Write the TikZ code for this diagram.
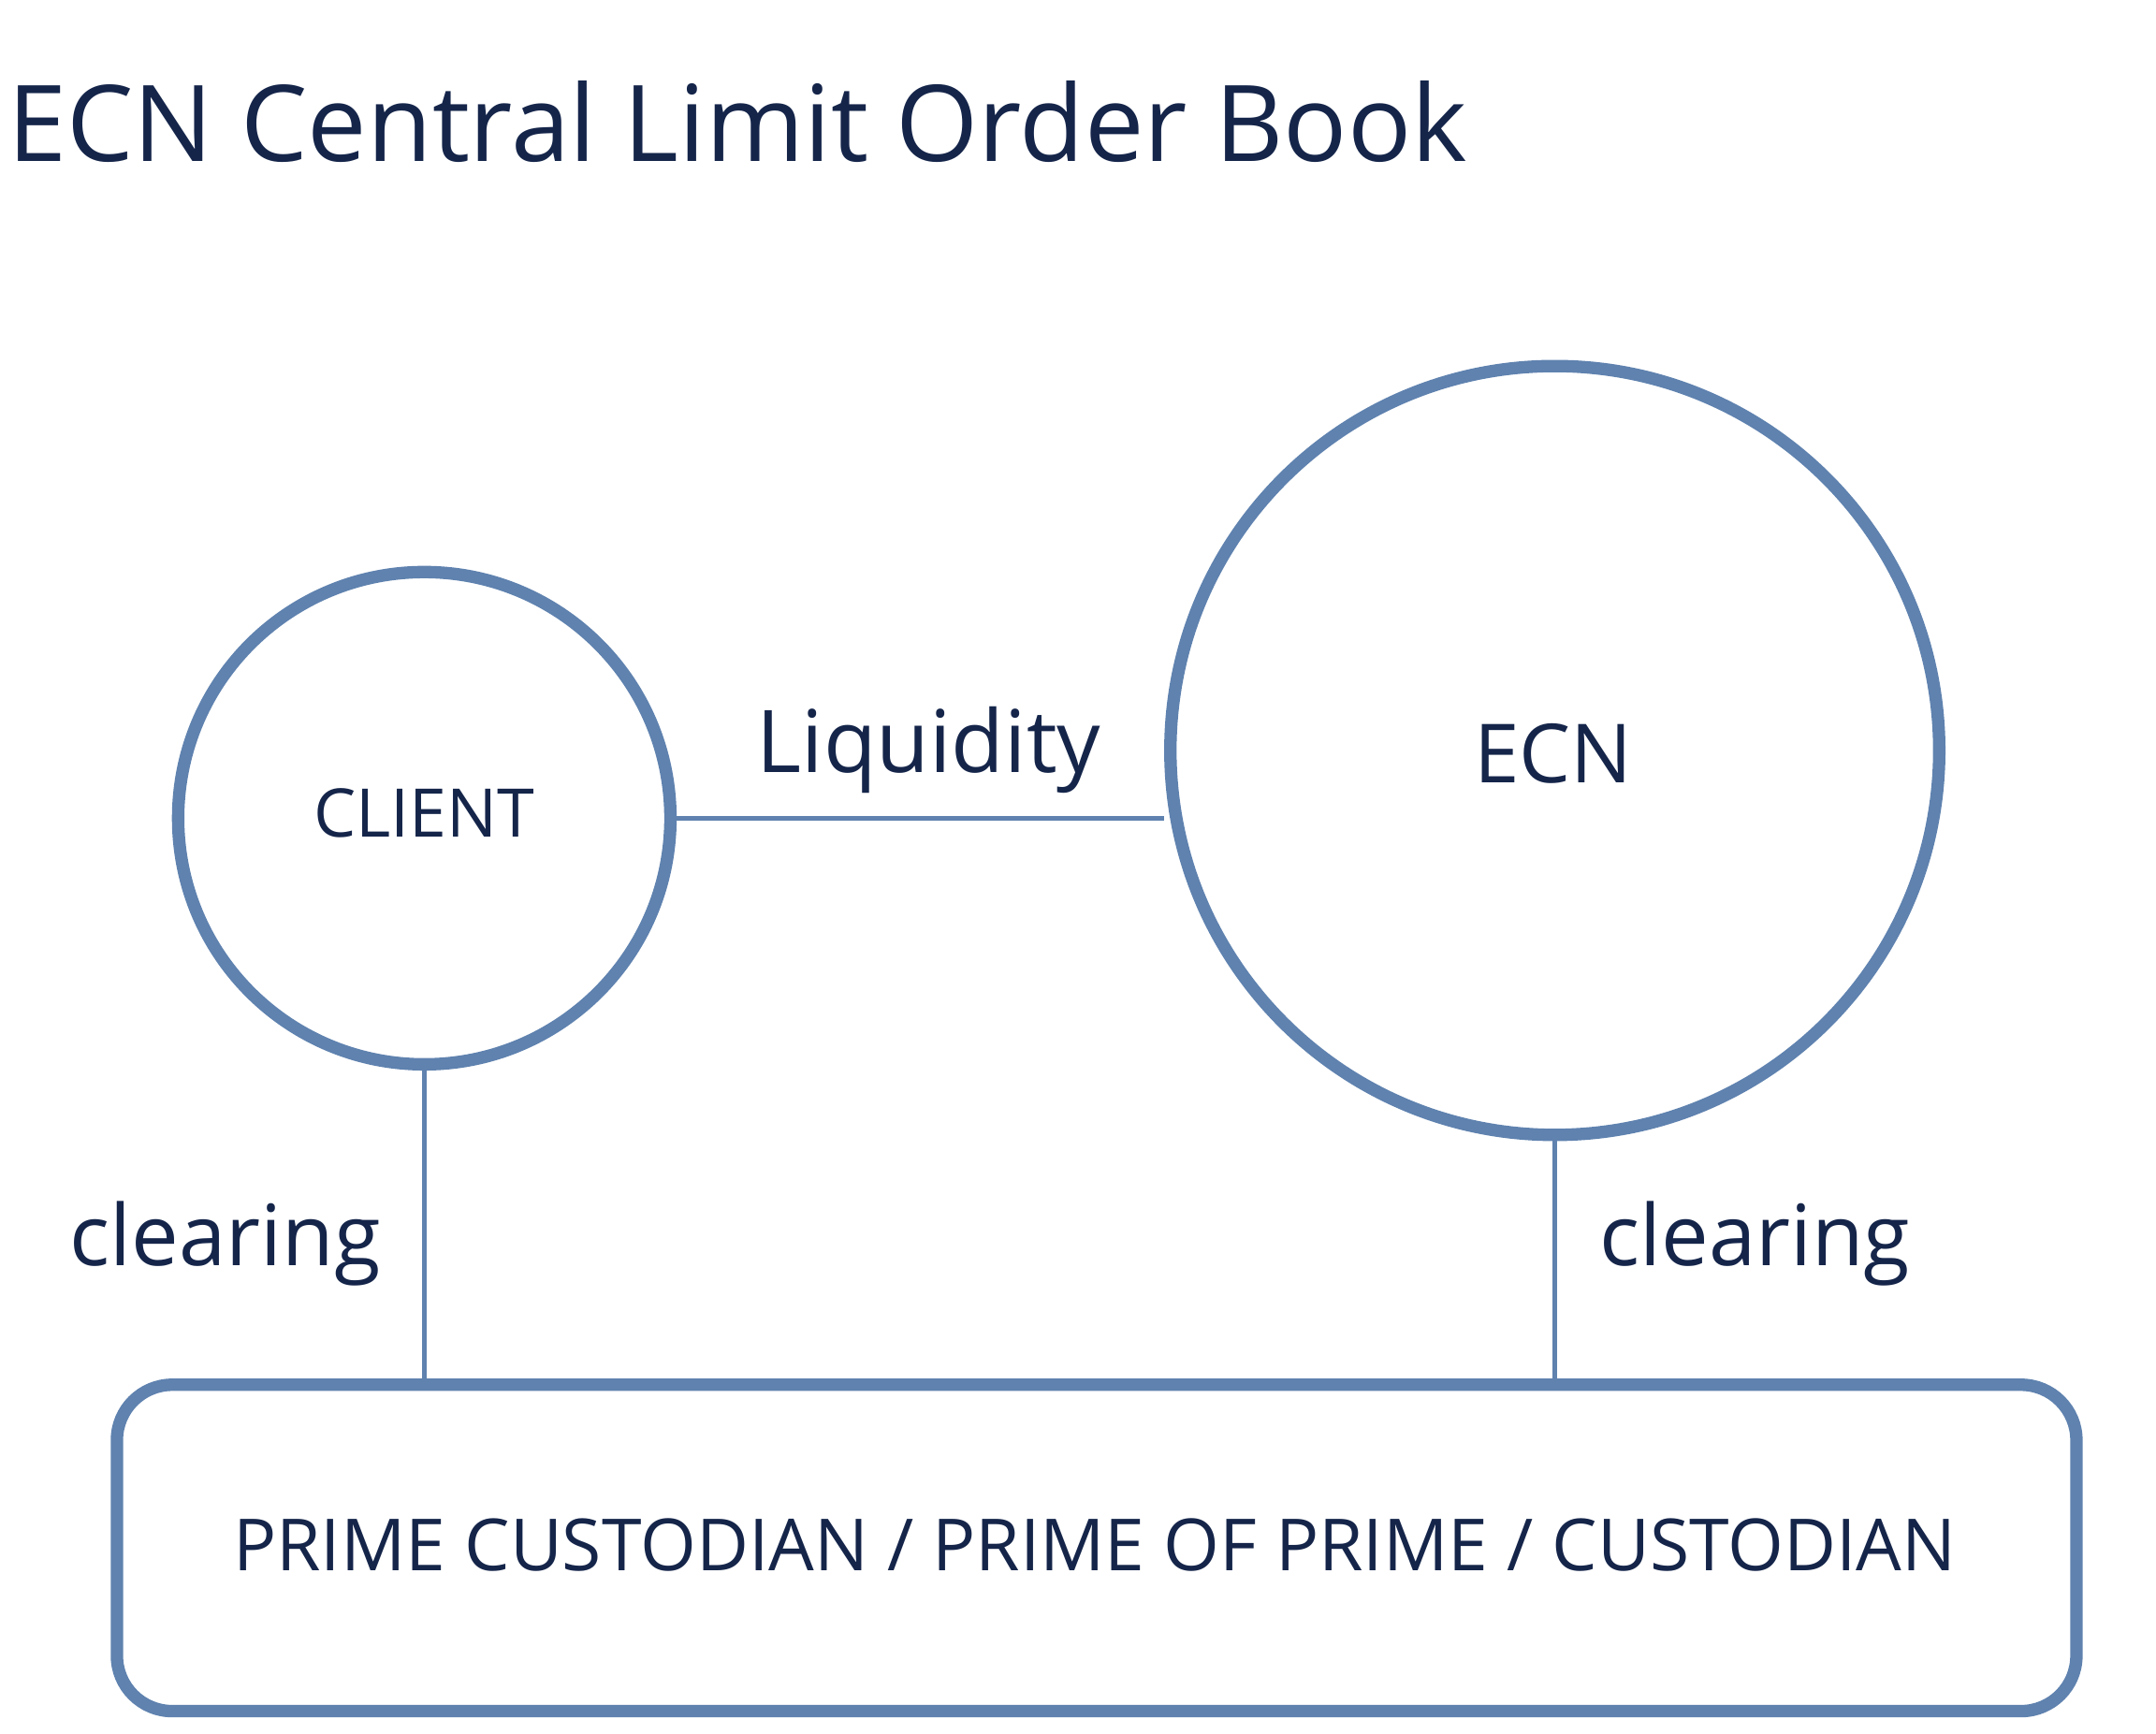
\documentclass[tikz,border=0pt]{standalone}
\usepackage{fontspec}
\setmainfont{Open Sans}
\definecolor{ln}{HTML}{5F82AF}
\definecolor{tx}{HTML}{15254A}
\begin{document}
\begin{tikzpicture}[x=0.01cm,y=-0.01cm,
  circ/.style={circle,draw=ln,line width=0.09cm,inner sep=0pt},
  thin/.style={draw=ln,line width=0.03cm},
  lbl/.style={text=tx,inner sep=0pt}]
\useasboundingbox (0,0) rectangle (1560,1254);
\node[lbl,anchor=base west,font=\fontsize{21.8}{26}\selectfont] (title) at (5,117) {ECN Central Limit Order Book};
\node[circ,minimum size=3.56cm] (client) at (307,592) {};
\node[circ,minimum size=5.56cm] (ecn) at (1125,543) {};
\node[lbl,font=\fontsize{13.8}{18}\selectfont] (clt) at (307,588) {CLIENT};
\node[lbl,font=\fontsize{16.8}{20}\selectfont] (ecnt) at (1124,545) {ECN};
\node[draw=ln,line width=0.09cm,rounded corners=0.4cm,minimum width=14.17cm,minimum height=2.36cm,inner sep=0pt] (prime) at (793.5,1120) {};
\node[lbl,font=\fontsize{14.8}{18}\selectfont] (pt) at (792,1118) {PRIME CUSTODIAN / PRIME OF PRIME / CUSTODIAN};
\draw[thin] (client.east) -- (client.east -| ecn.west);
\draw[thin] (client.south) -- (client.south |- prime.north);
\draw[thin] (ecn.south) -- (ecn.south |- prime.north);
\node[lbl,font=\fontsize{17.8}{22}\selectfont] (liq) at (672,543) {Liquidity};
\node[lbl,font=\fontsize{17.4}{22}\selectfont] (cl1) at (163,900) {clearing};
\node[lbl,font=\fontsize{17.4}{22}\selectfont] (cl2) at (1270,900) {clearing};
\end{tikzpicture}
\end{document}
